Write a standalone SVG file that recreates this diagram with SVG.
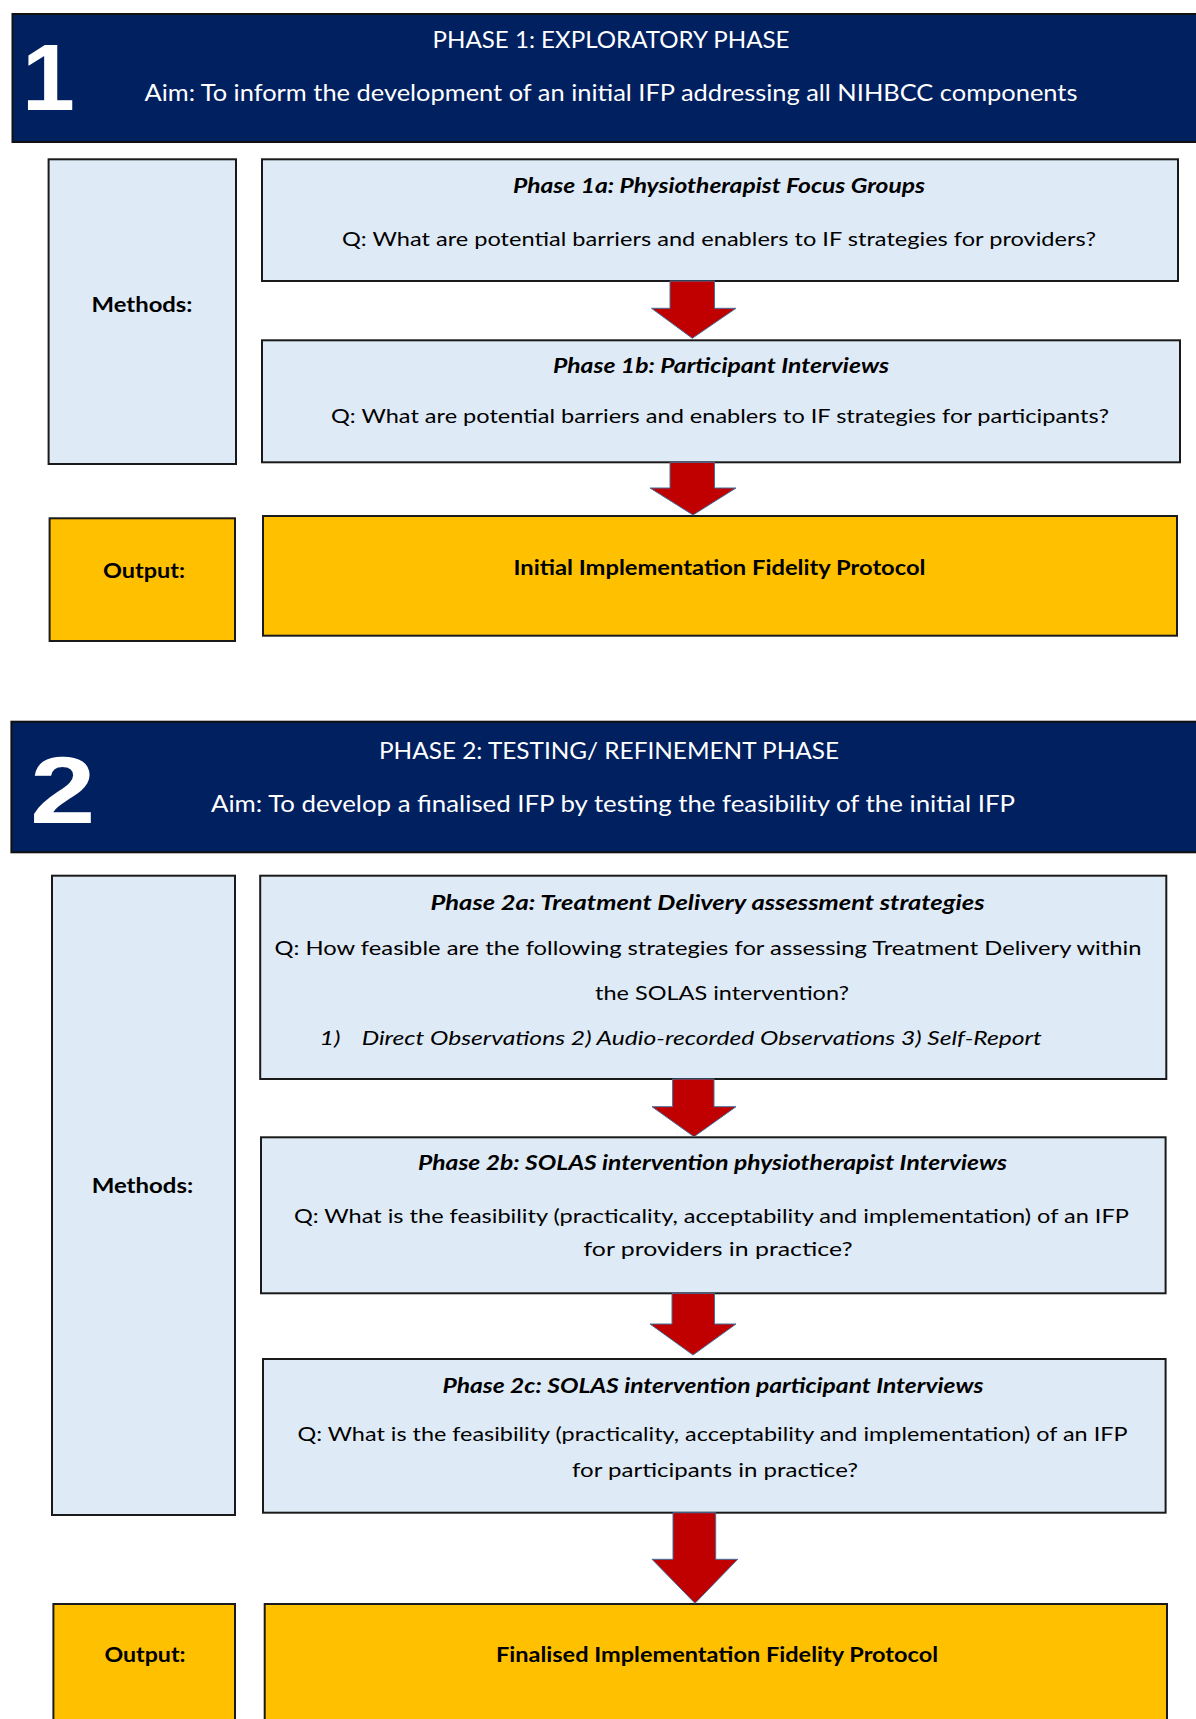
<svg xmlns="http://www.w3.org/2000/svg" width="1196" height="1719" viewBox="0 0 1196 1719">
<style>
.hdr{fill:#002060;stroke:#111;stroke-width:2}
.mbox{fill:#DEEAF6;stroke:#1a1a1a;stroke-width:2}
.obox{fill:#FFC000;stroke:#1a1a1a;stroke-width:2}
.num{font-family:"Liberation Sans",Arial,sans-serif;font-weight:bold;font-size:95px;fill:#fff}
.ht{font-family:Lato,"Liberation Sans",sans-serif;font-size:23px;fill:#fff;text-anchor:middle}
.t{font-family:Lato,"Liberation Sans",sans-serif;font-size:20px;fill:#000;text-anchor:middle}
.b{font-weight:bold}
.bi{font-weight:bold;font-style:italic}
.i{font-style:italic}
.arrow{fill:#C00000;stroke:#41719C;stroke-width:1}
</style>
<rect width="1196" height="1719" fill="#fff"/>

<g id="phase1-header">
<rect class="hdr" x="12.5" y="14" width="1200" height="128"/>
<text class="num" transform="translate(48.5,110) scale(1.0,1)" text-anchor="middle">1</text>
<text class="ht" x="611" y="48.3" textLength="357" lengthAdjust="spacingAndGlyphs">PHASE 1: EXPLORATORY PHASE</text>
<text class="ht" x="611" y="100.5" textLength="933" lengthAdjust="spacingAndGlyphs">Aim: To inform the development of an initial IFP addressing all NIHBCC components</text>
</g>

<g id="methods1">
<rect class="mbox" x="48.6" y="159.3" width="187.4" height="304.7"/>
<text class="t b" x="142" y="311.7" textLength="101" lengthAdjust="spacingAndGlyphs">Methods:</text>
</g>

<g id="phase1a">
<rect class="mbox" x="262" y="159.3" width="916" height="121.7"/>
<text class="t bi" x="719" y="192.7" textLength="412" lengthAdjust="spacingAndGlyphs">Phase 1a: Physiotherapist Focus Groups</text>
<text class="t" x="719" y="245.5" textLength="754" lengthAdjust="spacingAndGlyphs">Q: What are potential barriers and enablers to IF strategies for providers?</text>
</g>

<g id="phase1b">
<rect class="mbox" x="262" y="340.3" width="918" height="122"/>
<text class="t bi" x="721" y="372.7" textLength="336" lengthAdjust="spacingAndGlyphs">Phase 1b: Participant Interviews</text>
<text class="t" x="720" y="423.3" textLength="778" lengthAdjust="spacingAndGlyphs">Q: What are potential barriers and enablers to IF strategies for participants?</text>
</g>

<g id="output1-label">
<rect class="obox" x="49.6" y="518.3" width="185.4" height="122.7"/>
<text class="t b" x="144" y="578" textLength="82" lengthAdjust="spacingAndGlyphs">Output:</text>
</g>

<g id="output1">
<rect class="obox" x="263" y="516" width="914" height="119.7"/>
<text class="t b" x="719.5" y="575" textLength="412" lengthAdjust="spacingAndGlyphs">Initial Implementation Fidelity Protocol</text>
</g>

<g id="phase2-header">
<rect class="hdr" x="11.4" y="721.7" width="1200" height="130.6"/>
<text class="num" transform="translate(62.7,822.7) scale(1.24,1)" text-anchor="middle">2</text>
<text class="ht" x="609" y="758.5" textLength="460" lengthAdjust="spacingAndGlyphs">PHASE 2: TESTING/ REFINEMENT PHASE</text>
<text class="ht" x="613" y="811.5" textLength="804" lengthAdjust="spacingAndGlyphs">Aim: To develop a finalised IFP by testing the feasibility of the initial IFP</text>
</g>

<g id="methods2">
<rect class="mbox" x="52" y="875.7" width="183" height="639.3"/>
<text class="t b" x="142.4" y="1192.5" textLength="101.5" lengthAdjust="spacingAndGlyphs">Methods:</text>
</g>

<g id="phase2a">
<rect class="mbox" x="260.2" y="875.7" width="906.1" height="203.3"/>
<text class="t bi" x="707.6" y="910" textLength="554" lengthAdjust="spacingAndGlyphs">Phase 2a: Treatment Delivery assessment strategies</text>
<text class="t" x="708" y="954.5" textLength="867" lengthAdjust="spacingAndGlyphs">Q: How feasible are the following strategies for assessing Treatment Delivery within</text>
<text class="t" x="722" y="1000" textLength="254" lengthAdjust="spacingAndGlyphs">the SOLAS intervention?</text>
<text class="t i" x="319.6" y="1045" style="text-anchor:start" textLength="21" lengthAdjust="spacingAndGlyphs">1)</text>
<text class="t i" x="361.7" y="1045" style="text-anchor:start" textLength="680" lengthAdjust="spacingAndGlyphs">Direct Observations 2)  Audio-recorded Observations 3) Self-Report</text>
</g>

<g id="phase2b">
<rect class="mbox" x="261" y="1137.3" width="904.6" height="156"/>
<text class="t bi" x="712.6" y="1170" textLength="589" lengthAdjust="spacingAndGlyphs">Phase 2b: SOLAS intervention physiotherapist Interviews</text>
<text class="t" x="711.4" y="1222.5" textLength="835" lengthAdjust="spacingAndGlyphs">Q: What is the feasibility (practicality, acceptability and implementation) of an IFP</text>
<text class="t" x="718" y="1255.5" textLength="269" lengthAdjust="spacingAndGlyphs">for providers in practice?</text>
</g>

<g id="phase2c">
<rect class="mbox" x="263" y="1359" width="902.6" height="153.7"/>
<text class="t bi" x="713" y="1393" textLength="541" lengthAdjust="spacingAndGlyphs">Phase 2c: SOLAS intervention participant Interviews</text>
<text class="t" x="712.5" y="1440.7" textLength="830" lengthAdjust="spacingAndGlyphs">Q: What is the feasibility (practicality, acceptability and implementation) of an IFP</text>
<text class="t" x="715" y="1476.7" textLength="286" lengthAdjust="spacingAndGlyphs">for participants in practice?</text>
</g>

<g id="output2-label">
<rect class="obox" x="53.4" y="1604" width="181.6" height="130"/>
<text class="t b" x="145" y="1661.7" textLength="81" lengthAdjust="spacingAndGlyphs">Output:</text>
</g>

<g id="output2">
<rect class="obox" x="264.7" y="1604" width="902.3" height="130"/>
<text class="t b" x="717" y="1661.7" textLength="442" lengthAdjust="spacingAndGlyphs">Finalised Implementation Fidelity Protocol</text>
</g>

<g id="connectors">
<path class="arrow" d="M670,281 L714.5,281 L714.5,308.3 L736,308.3 L692.3,338.3 L651.5,308.3 L670,308.3 Z"/>
<path class="arrow" d="M670,462.3 L714.5,462.3 L714.5,488 L736,488 L693,515 L650,488 L670,488 Z"/>
<path class="arrow" d="M672.6,1079 L714,1079 L714,1106.7 L736,1106.7 L694,1136.7 L652,1106.7 L672.6,1106.7 Z"/>
<path class="arrow" d="M672,1293.3 L714.5,1293.3 L714.5,1324 L736,1324 L693,1355 L650,1324 L672,1324 Z"/>
<path class="arrow" d="M673,1512.7 L715.7,1512.7 L715.7,1559.3 L737.7,1559.3 L695,1603.3 L652,1559.3 L673,1559.3 Z"/>
</g>
</svg>
